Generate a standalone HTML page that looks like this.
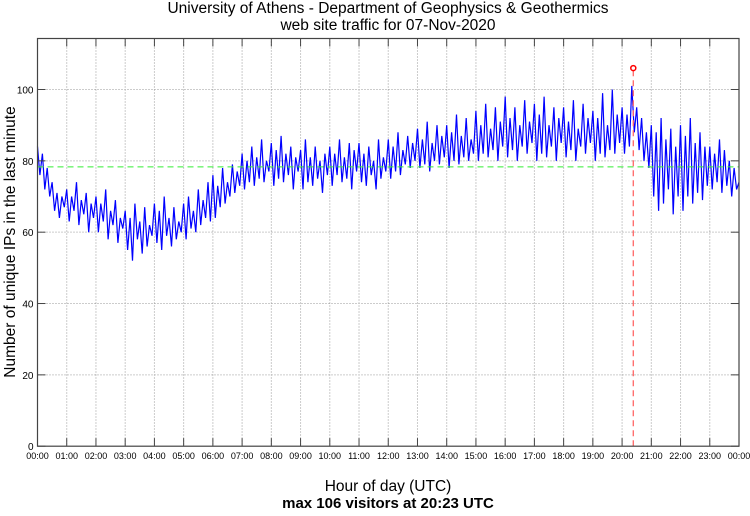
<!DOCTYPE html>
<html><head><meta charset="utf-8"><style>
body{margin:0;background:#fff;font-family:"Liberation Sans",sans-serif}
svg text{font-family:"Liberation Sans",sans-serif;fill:#000}
</style></head><body>
<svg id="c" width="750" height="511">
<text x="388" y="13" font-size="15.5" text-anchor="middle">University of Athens - Department of Geophysics &amp; Geothermics</text>
<text x="388" y="30" font-size="15.5" text-anchor="middle">web site traffic for 07-Nov-2020</text>
<text x="388" y="491" font-size="15.5" text-anchor="middle">Hour of day (UTC)</text>
<text x="388" y="508" font-size="15" text-anchor="middle" font-weight="bold">max 106 visitors at 20:23 UTC</text>
<text transform="translate(15,242) rotate(-90)" font-size="15.5" text-anchor="middle">Number of unique IPs in the last minute</text>
<g id="grid"></g>
<g id="marks"></g>
<g id="axes"></g>
</svg>
<script>
const yTicks=[0,20,40,60,80,100];
const xTickLabels=["00:00","01:00","02:00","03:00","04:00","05:00","06:00","07:00","08:00","09:00","10:00","11:00","12:00","13:00","14:00","15:00","16:00","17:00","18:00","19:00","20:00","21:00","22:00","23:00","00:00"];
const meanValue=78.3;
const peakMinute=20*60+23;
const peakValue=106;
const visitors=[
84,76,82,72,78,70,74,66,71,64,70,67,
72,63,70,66,74,62,69,65,71,60,68,64,
70,60,68,63,72,58,66,62,69,57,64,61,
66,55,64,52,68,58,63,54,67,56,62,59,
68,57,66,55,70,59,64,56,67,58,63,60,
68,58,70,61,66,60,72,62,69,64,74,63,
76,64,73,67,78,68,74,70,79,71,77,73,
82,72,80,74,84,73,81,75,86,74,80,77,
85,73,83,75,87,74,82,76,84,72,81,77,
83,72,86,74,81,73,84,75,80,71,82,76,
84,73,82,76,86,74,81,75,85,72,83,77,
85,74,82,73,84,76,80,72,86,75,81,77,
86,75,84,77,88,76,83,79,87,78,85,80,
89,78,86,79,91,77,85,80,90,79,87,81,
90,78,88,80,93,79,87,81,92,80,86,82,
94,80,90,82,96,81,89,83,95,80,91,84,
98,81,92,83,95,80,90,84,97,82,91,85,
96,80,93,82,98,81,90,84,95,80,92,85,
95,81,91,83,97,80,89,84,96,82,92,85,
94,80,92,82,99,81,90,83,100,82,93,85,
95,82,93,84,101,88,95,83,92,80,88,78,
90,70,88,66,92,68,86,72,89,65,84,70,
90,66,87,70,92,68,85,71,88,69,84,73,
84,72,82,74,86,71,83,73,80,70,78,72,74];
const stepMinutes=5;
const L=37.5,R=739,T=38.5,B=446.2,YMAX=114.3;
const X=m=>L+(R-L)*m/1440, Y=v=>B-(B-T)*v/YMAX;
const NS="http://www.w3.org/2000/svg";
function mk(p,t,a){const e=document.createElementNS(NS,t);for(const k in a)e.setAttribute(k,a[k]);p.appendChild(e);return e;}
const grid=document.getElementById('grid'),marks=document.getElementById('marks'),axes=document.getElementById('axes');
mk(axes,'rect',{x:L,y:T,width:R-L,height:B-T,fill:'none',stroke:'#444','stroke-width':1.2});
xTickLabels.forEach((lab,i)=>{const x=X(i*60);
 if(i>0&&i<24){const g=mk(grid,'line',{x1:x,x2:x,y1:T,y2:B,stroke:'#999','stroke-dasharray':'1,2'});
 }
 mk(axes,'line',{x1:x,x2:x,y1:B,y2:B-8,stroke:'#444'});mk(axes,'line',{x1:x,x2:x,y1:T,y2:T+8,stroke:'#444'});
 const t=mk(axes,'text',{x:x,y:B+13,'font-size':9,'text-anchor':'middle'});t.textContent=lab;
 });
yTicks.forEach(v=>{const y=Y(v);
 if(v>0){const g=mk(grid,'line',{x1:L,x2:R,y1:y,y2:y,stroke:'#999','stroke-dasharray':'1,2'});
 }
 mk(axes,'line',{x1:L,x2:L+8,y1:y,y2:y,stroke:'#444'});mk(axes,'line',{x1:R,x2:R-8,y1:y,y2:y,stroke:'#444'});
 const t=mk(axes,'text',{x:L-4,y:y+4,'font-size':10,'text-anchor':'end'});t.textContent=v;
 });
const pts=visitors.map((v,i)=>X(i*stepMinutes).toFixed(1)+','+Y(v).toFixed(1)).join(' ');
const line=mk(marks,'polyline',{points:pts,fill:'none',stroke:'#0000ff','stroke-width':1.2});

const mean=mk(marks,'line',{x1:L,x2:R,y1:Y(meanValue),y2:Y(meanValue),stroke:'#33ee33','stroke-dasharray':'6,4','stroke-width':1});

const pl=mk(marks,'line',{x1:X(peakMinute),x2:X(peakMinute),y1:B,y2:Y(peakValue),stroke:'#ff6666','stroke-dasharray':'6,4','stroke-width':1.3});

const pk=mk(marks,'circle',{cx:X(peakMinute),cy:Y(peakValue),r:2.5,fill:'none',stroke:'#ff0000','stroke-width':1.5});

</script>
</body></html>
